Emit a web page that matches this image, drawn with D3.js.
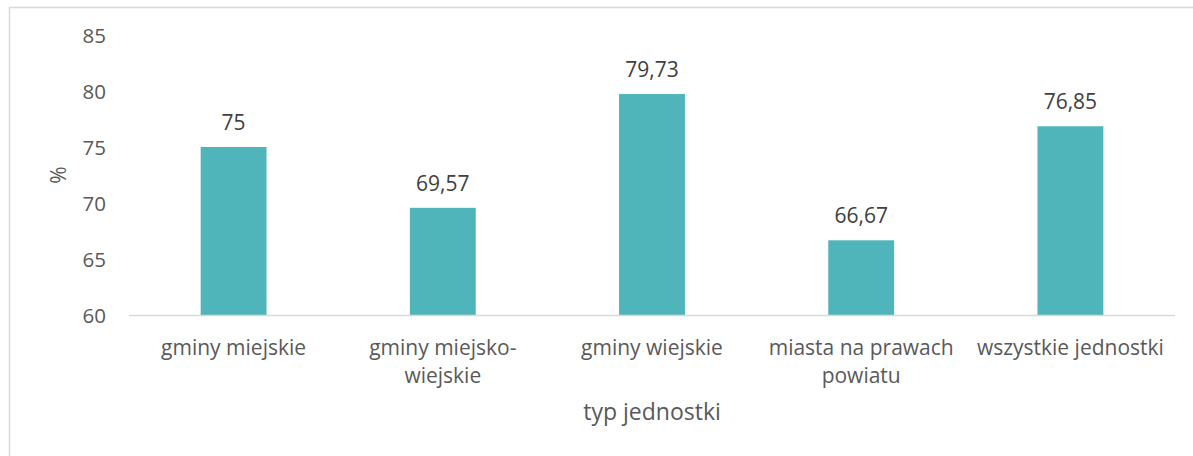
<!DOCTYPE html>
<html>
<head>
<meta charset="utf-8">
<script src="https://cdn.jsdelivr.net/npm/d3@7"></script>
<style>
  html, body { margin: 0; padding: 0; background: #fff; }
  svg { display: block; }
  text { font-family: "Open Sans", "Noto Sans", sans-serif; }
</style>
</head>
<body>
<svg id="chart" width="1193" height="456"></svg>
<script>
// Share of units by type (%)
const categories = [
  ["gminy miejskie"],
  ["gminy miejsko-", "wiejskie"],
  ["gminy wiejskie"],
  ["miasta na prawach", "powiatu"],
  ["wszystkie jednostki"]
];
const values = [75, 69.57, 79.73, 66.67, 76.85];
const yTicks = [60, 65, 70, 75, 80, 85];
const yTitle = "%";
const xTitle = "typ jednostki";

const W = 1193, H = 456;
const plot = { left: 129, right: 1175, top: 35, bottom: 315 };

const svg = d3.select("#chart");

// chart frame (extends past the right and bottom edges)
svg.append("path")
  .attr("d", `M9.5,${H + 2}V7.5H${W + 2}`)
  .attr("fill", "none")
  .attr("stroke", "#d9d9d9")
  .attr("stroke-width", 1.5);

const keys = categories.map((c, i) => i);
const x = d3.scaleBand().domain(keys).range([plot.left, plot.right]).paddingInner(0.685).paddingOuter(0.3425);
const y = d3.scaleLinear().domain([60, 85]).range([plot.bottom, plot.top]);

const fmt = v => String(v).replace(".", ",");

// y axis labels
const yAxis = d3.axisLeft(y).tickValues(yTicks).tickSize(0).tickPadding(0).tickFormat(d => d);
const gy = svg.append("g").attr("transform", "translate(106,0)").call(yAxis);
gy.select(".domain").remove();
gy.selectAll("text")
  .attr("fill", "#595959")
  .attr("font-size", 20.5)
  .attr("dy", "0.36em")
  .style("font-family", "'Open Sans', sans-serif");

// bars
svg.append("g").selectAll("rect")
  .data(values)
  .join("rect")
  .attr("x", (d, i) => x(i))
  .attr("width", x.bandwidth())
  .attr("y", d => y(d))
  .attr("height", d => y(60) - y(d))
  .attr("fill", "#50b5bb");

// baseline
svg.append("line")
  .attr("x1", plot.left).attr("x2", plot.right)
  .attr("y1", y(60) + 0.5).attr("y2", y(60) + 0.5)
  .attr("stroke", "#d9d9d9")
  .attr("stroke-width", 1.5);

// value labels
svg.append("g").selectAll("text")
  .data(values)
  .join("text")
  .attr("x", (d, i) => x(i) + x.bandwidth() / 2)
  .attr("y", d => y(d) - 17)
  .attr("text-anchor", "middle")
  .attr("font-size", 21)
  .attr("fill", "#404040")
  .text(fmt);

// category labels
const cat = svg.append("g").selectAll("text")
  .data(categories)
  .join("text")
  .attr("x", (d, i) => x(i) + x.bandwidth() / 2)
  .attr("y", 355)
  .attr("text-anchor", "middle")
  .attr("font-size", 21)
  .attr("fill", "#595959");
cat.selectAll("tspan")
  .data(d => d)
  .join("tspan")
  .attr("x", function () { return d3.select(this.parentNode).attr("x"); })
  .attr("dy", (d, i) => i === 0 ? 0 : 28)
  .text(d => d);

// axis titles
svg.append("text")
  .attr("x", (plot.left + plot.right) / 2)
  .attr("y", 420)
  .attr("text-anchor", "middle")
  .attr("font-size", 23)
  .attr("fill", "#595959")
  .text(xTitle);

svg.append("text")
  .attr("transform", `translate(66,${(plot.top + plot.bottom) / 2}) rotate(-90)`)
  .attr("text-anchor", "middle")
  .attr("font-size", 21)
  .attr("fill", "#595959")
  .text(yTitle);
</script>
</body>
</html>
